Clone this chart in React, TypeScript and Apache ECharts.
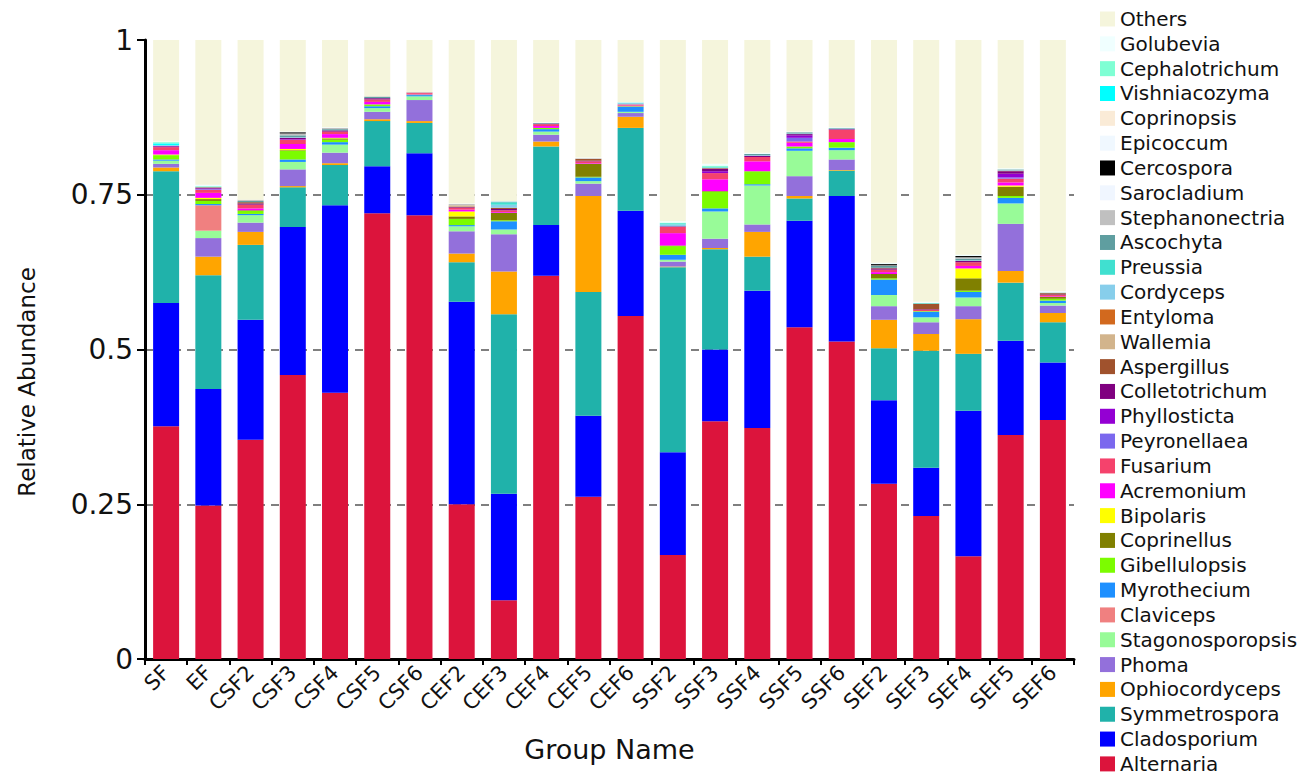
import React, { useEffect, useRef } from "react";
import * as echarts from "echarts";

const categories = ["SF","EF","CSF2","CSF3","CSF4","CSF5","CSF6","CEF2","CEF3","CEF4","CEF5","CEF6","SSF2","SSF3","SSF4","SSF5","SSF6","SEF2","SEF3","SEF4","SEF5","SEF6"];
const yTicks = [0, 0.25, 0.5, 0.75, 1];

const Alternaria = [.376,.248,.354,.459,.430,.720,.717,.250,.095,.619,.262,.554,.168,.384,.373,.536,.513,.283,.231,.166,.362,.386];
const Cladosporium = [.199,.188,.194,.239,.303,.076,.100,.327,.172,.082,.131,.170,.166,.116,.222,.172,.235,.135,.078,.235,.152,.093];
const Symmetrospora = [.213,.184,.121,.064,.065,.073,.049,.064,.290,.127,.200,.134,.299,.162,.055,.036,.041,.084,.189,.092,.094,.065];
const Ophiocordyceps = [.006,.030,.021,.002,.003,.003,.003,.014,.069,.008,.155,.018,.001,.002,.040,.004,.001,.046,.027,.056,.019,.015];
const Phoma = [.006,.030,.015,.027,.017,.012,.034,.036,.060,.011,.020,.006,.008,.015,.012,.032,.017,.022,.019,.021,.076,.012];
const Stagonosporopsis = [.005,.012,.012,.012,.013,.006,.006,.008,.008,.005,.004,.002,.003,.044,.063,.041,.015,.018,.008,.014,.033,.004];
const Claviceps = [0,.041,0,0,0,0,0,0,0,0,0,0,0,0,0,0,0,0,0,0,0,0];
const Myrothecium = [.002,.002,.002,.004,.004,.003,.002,.002,.013,.004,.006,.008,.008,.005,.002,.004,.004,.025,.009,.009,.009,.004];
const Gibellulopsis = [.007,.005,.005,.014,.004,.003,.001,.010,.002,.002,.001,.001,.014,.027,.021,.003,.009,.002,.001,.002,.003,.003];
const Coprinellus = [0,.003,.001,.001,.002,0,0,.004,.012,0,.021,0,.001,.001,0,0,0,.007,0,.020,.015,.003];
const Bipolaris = [.001,.002,0,.002,.001,0,0,.008,0,0,0,0,0,0,0,0,0,0,0,.016,.002,0];
const Acremonium = [.007,.008,.003,.008,.006,.004,.001,.003,.001,.003,.001,.001,.020,.019,.016,.006,.005,.003,0,.004,.005,.001];
const Fusarium = [.005,.005,.006,.007,.004,.004,.002,.003,.003,.003,.003,.002,.010,.010,.007,.002,.015,.004,.002,.006,.006,.002];
const Peyronellaea = [0,.001,0,0,0,0,0,0,0,0,0,0,0,0,0,.006,0,0,0,0,.002,0];
const Phyllosticta = [.001,.001,0,.001,0,0,0,0,0,0,0,0,0,.003,0,.004,0,0,0,0,.006,0];
const Colletotrichum = [.001,.001,.002,.002,.002,.002,0,.001,.002,.001,.001,0,.001,.004,.002,.002,.001,.002,.001,.002,.004,.001];
const Aspergillus = [0,.001,.002,0,0,0,0,.001,.002,0,.003,0,0,.001,0,0,0,.001,.009,0,.001,.002];
const Wallemia = [0,0,0,0,0,0,0,.002,0,0,0,0,0,0,0,0,0,0,0,0,0,0];
const Entyloma = [0,0,0,0,0,0,0,0,0,0,0,0,0,0,0,0,0,0,0,0,0,0];
const Cordyceps = [.001,.001,0,.001,0,0,0,0,.005,0,0,.002,.003,.001,.001,.001,.001,0,0,.001,.001,0];
const Preussia = [0,0,0,0,0,0,0,0,.004,0,0,.001,.002,.001,0,0,0,0,.001,0,0,0];
const Ascochyta = [0,0,.002,.003,.002,.002,0,0,.001,.001,0,0,0,0,.002,.002,.001,.003,0,.003,.001,.001];
const Stephanonectria = [0,0,.002,.003,.002,.001,.001,.002,0,0,.001,0,0,0,0,0,0,.001,0,.002,0,0];
const Sarocladium = [0,0,0,0,0,0,0,0,0,0,0,0,0,0,0,0,0,0,0,0,0,0];
const Cercospora = [0,0,0,.002,0,0,0,0,0,0,0,0,0,0,0,0,0,.002,0,.002,0,0];
const Epicoccum = [0,0,0,0,0,0,0,0,0,0,0,0,0,0,0,0,0,0,0,0,0,0];
const Coprinopsis = [0,0,0,0,0,0,0,0,0,0,0,0,0,0,0,0,0,0,0,0,0,0];
const Vishniacozyma = [.003,0,0,0,0,0,0,0,0,0,0,0,0,0,0,0,0,0,0,0,0,0];
const Cephalotrichum = [.002,.001,0,0,0,0,0,0,0,0,0,0,.001,.002,0,0,0,0,0,0,0,0];
const Golubevia = [.001,.002,0,.001,.001,0,0,.001,.001,.001,.001,.001,.002,.003,.002,.001,.001,.002,.002,.002,.002,.002];
const Others = [.164,.234,.258,.148,.141,.091,.084,.264,.260,.133,.190,.100,.293,.200,.182,.148,.141,.360,.423,.347,.207,.406];

const seriesDefs: [string, number[], string][] = [
  ["Alternaria", Alternaria, "#DC143C"],
  ["Cladosporium", Cladosporium, "#0000FF"],
  ["Symmetrospora", Symmetrospora, "#20B2AA"],
  ["Ophiocordyceps", Ophiocordyceps, "#FFA500"],
  ["Phoma", Phoma, "#9370DB"],
  ["Stagonosporopsis", Stagonosporopsis, "#98FB98"],
  ["Claviceps", Claviceps, "#F08080"],
  ["Myrothecium", Myrothecium, "#1E90FF"],
  ["Gibellulopsis", Gibellulopsis, "#7CFC00"],
  ["Coprinellus", Coprinellus, "#808000"],
  ["Bipolaris", Bipolaris, "#FFFF00"],
  ["Acremonium", Acremonium, "#FF00FF"],
  ["Fusarium", Fusarium, "#F5426C"],
  ["Peyronellaea", Peyronellaea, "#7B68EE"],
  ["Phyllosticta", Phyllosticta, "#9400D3"],
  ["Colletotrichum", Colletotrichum, "#800080"],
  ["Aspergillus", Aspergillus, "#A0522D"],
  ["Wallemia", Wallemia, "#D2B48C"],
  ["Entyloma", Entyloma, "#D2691E"],
  ["Cordyceps", Cordyceps, "#87CEEB"],
  ["Preussia", Preussia, "#40E0D0"],
  ["Ascochyta", Ascochyta, "#5F9EA0"],
  ["Stephanonectria", Stephanonectria, "#C0C0C0"],
  ["Sarocladium", Sarocladium, "#F0F6FF"],
  ["Cercospora", Cercospora, "#000000"],
  ["Epicoccum", Epicoccum, "#F0F8FF"],
  ["Coprinopsis", Coprinopsis, "#FAEBD7"],
  ["Vishniacozyma", Vishniacozyma, "#00FFFF"],
  ["Cephalotrichum", Cephalotrichum, "#7FFFD4"],
  ["Golubevia", Golubevia, "#F0FFFF"],
  ["Others", Others, "#F5F5DC"],
];

const FONT = "DejaVu Sans";

export default function App() {
  const ref = useRef<HTMLDivElement>(null);
  useEffect(() => {
    document.body.style.margin = "0";
    if (!ref.current) return;
    const chart = echarts.init(ref.current, null, { renderer: "svg" });
    chart.setOption({
      animation: false,
      backgroundColor: "#ffffff",
      textStyle: { fontFamily: FONT },
      grid: { left: 145, right: 238, top: 40, bottom: 116, containLabel: false, outerBoundsMode: "none" },
      legend: {
        orient: "vertical",
        left: 1100,
        top: 9,
        padding: 0,
        icon: "rect",
        itemWidth: 15,
        itemHeight: 15,
        itemGap: 4.83,
        data: seriesDefs.map((d) => d[0]).reverse(),
        textStyle: { fontSize: 20, color: "#111", lineHeight: 20, fontFamily: FONT },
        selectedMode: false,
      },
      graphic: [
        {
          type: "text",
          x: 27,
          y: 382,
          rotation: Math.PI / 2,
          style: {
            text: "Relative Abundance",
            fontSize: 23,
            fontFamily: FONT,
            fill: "#111",
            align: "center",
            verticalAlign: "middle",
          },
        },
      ],
      xAxis: {
        type: "category",
        data: categories,
        name: "Group Name",
        nameLocation: "middle",
        nameGap: 77,
        nameTextStyle: { fontSize: 27, color: "#111", fontFamily: FONT },
        axisLine: { show: true, lineStyle: { color: "#000", width: 3 } },
        axisTick: { show: true, length: 6, lineStyle: { color: "#000", width: 2 } },
        axisLabel: { rotate: 45, interval: 0, fontSize: 21, color: "#111", margin: 10, fontFamily: FONT },
      },
      yAxis: {
        type: "value",
        min: 0,
        max: 1,
        interval: 0.25,
        axisLine: { show: true, lineStyle: { color: "#000", width: 3 } },
        axisTick: { show: true, length: 8, lineStyle: { color: "#000", width: 2 } },
        axisLabel: {
          fontSize: 28,
          color: "#111",
          margin: 12,
          fontFamily: FONT,
          formatter: (v: number) => {
            const t = yTicks.find((x) => Math.abs(x - v) < 1e-9);
            return t === undefined ? "" : String(t);
          },
        },
        splitLine: {
          show: true,
          lineStyle: {
            color: ["rgba(0,0,0,0)", "#555", "#555", "#555", "rgba(0,0,0,0)"],
            type: [8, 6],
            width: 1.5,
          },
        },
      },
      series: seriesDefs.map(([name, data, color]) => ({
        name,
        type: "bar",
        stack: "total",
        data,
        barWidth: 26,
        itemStyle: { color },
        emphasis: { disabled: true },
      })),
    });
    return () => chart.dispose();
  }, []);
  return <div ref={ref} style={{ width: 1312, height: 775 }} />;
}
